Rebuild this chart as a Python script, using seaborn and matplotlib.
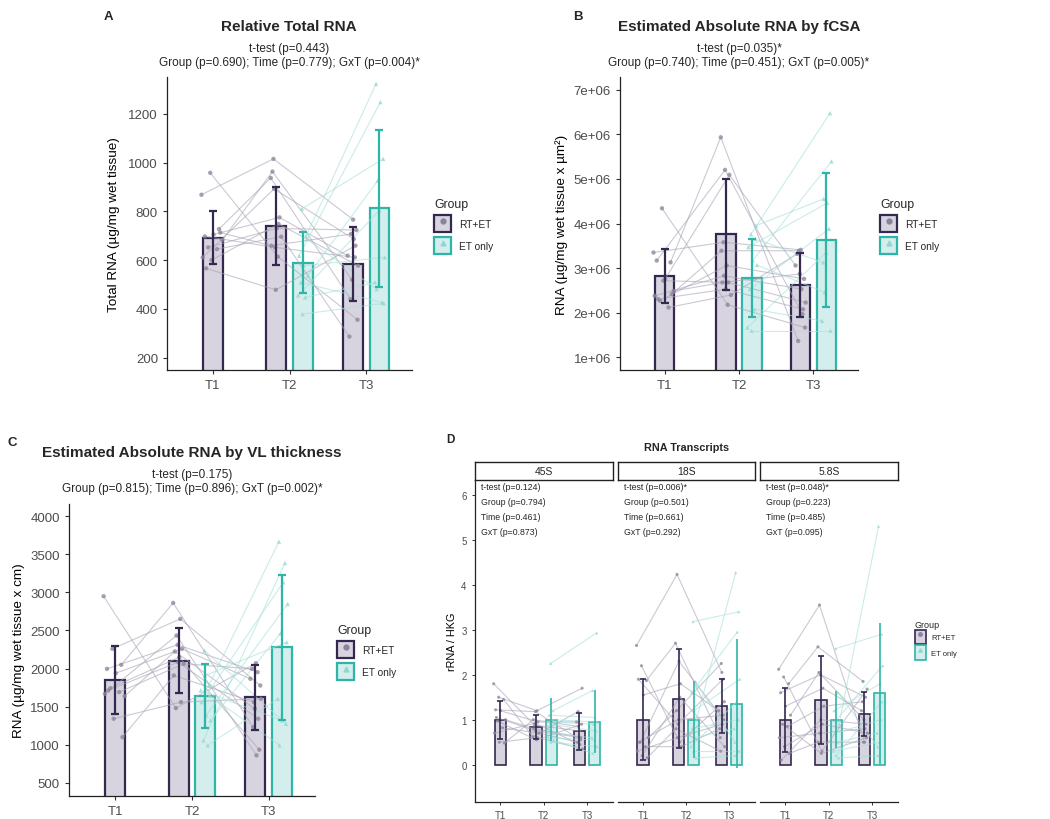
import numpy as np
import pandas as pd
import seaborn as sns
import matplotlib.pyplot as plt
from matplotlib.patches import Patch
from matplotlib.lines import Line2D

sns.set_theme(style='ticks')
plt.rcParams['font.family'] = ['Liberation Sans', 'DejaVu Sans']

W, H = 1050, 820

times = ['T1', 'T2', 'T3']
groups = ['RT+ET', 'ET only']

# ---- A: relative total RNA (µg/mg wet tissue)
a_rt_t1 = [868, 958, 727, 697, 705, 682, 652, 645, 611, 600, 713, 566]
a_rt_t2 = [1015, 614, 937, 652, 775, 963, 730, 696, 892, 748, 659, 478]
a_rt_t3 = [766, 355, 440, 611, 618, 519, 723, 286, 686, 577, 707, 659]
a_et_t2 = [810, 700, 618, 577, 536, 508, 447, 455, 378, 686]
a_et_t3 = [1015, 1323, 1248, 611, 926, 426, 508, 803, 423, 481]
a_mean_rt = [692, 741, 584]
a_sd_rt = [110, 160, 150]
a_mean_et = [590, 812]
a_sd_et = [124, 322]

# ---- B: absolute RNA by fCSA
b_rt_t1 = [3.35, 4.34, 3.13, 3.17, 2.76, 2.49, 2.27, 2.12, 2.38, 2.72, 2.42, 2.31]
b_rt_t2 = [3.58, 2.18, 5.93, 5.20, 5.09, 2.68, 3.06, 2.40, 2.83, 2.68, 3.39, 2.53]
b_rt_t3 = [3.41, 1.67, 1.37, 1.97, 3.06, 2.87, 2.76, 3.32, 2.53, 2.23, 3.39, 2.08]
b_et_t2 = [3.76, 3.65, 3.47, 3.17, 3.07, 2.53, 2.08, 1.67, 1.60, 3.95]
b_et_t3 = [6.47, 3.13, 4.46, 5.39, 2.46, 3.88, 1.82, 3.35, 1.60, 4.55]
b_mean_rt = [2.82, 3.76, 2.62]
b_sd_rt = [0.60, 1.24, 0.72]
b_mean_et = [2.78, 3.62]
b_sd_et = [0.88, 1.50]
b_ticks = [1, 2, 3, 4, 5, 6, 7]
b_ticklabels = ['1e+06', '2e+06', '3e+06', '4e+06', '5e+06', '6e+06', '7e+06']

# ---- C: absolute RNA by VL thickness
c_rt_t1 = [2950, 2259, 2049, 1996, 1939, 1637, 1742, 1690, 1668, 1340, 1099, 1712]
c_rt_t2 = [1480, 2652, 2862, 2311, 2259, 2224, 2149, 2062, 2434, 1559, 1909, 2084]
c_rt_t3 = [2070, 1777, 1230, 1952, 1865, 1471, 933, 1996, 859, 1602, 1559, 1340]
c_et_t2 = [2237, 1777, 1559, 1384, 1318, 1056, 991, 1712, 1909, 1646]
c_et_t3 = [1274, 3667, 3133, 2849, 2464, 3387, 1602, 1318, 2346, 991]
c_mean_rt = [1852, 2105, 1620]
c_sd_rt = [450, 430, 430]
c_mean_et = [1637, 2280]
c_sd_et = [425, 950]

# ---- D: rRNA transcripts / HKG
transcripts = ['45S', '18S', '5.8S']
d_rt_t1 = [[1.80, 1.50, 1.45, 1.22, 1.20, 1.00, 0.97, 0.82, 0.70, 0.50, 0.48, 1.05],
           [2.65, 2.20, 1.87, 1.90, 1.55, 0.60, 0.50, 0.40, 0.30, 0.20, 0.15, 0.50],
           [2.12, 1.95, 1.80, 1.60, 1.30, 1.10, 0.90, 0.85, 0.60, 0.40, 0.25, 0.10]]
d_rt_t2 = [[0.88, 1.20, 0.62, 1.18, 0.95, 0.80, 0.55, 0.70, 0.92, 0.60, 1.00, 0.75],
           [4.23, 0.50, 2.70, 0.90, 1.80, 1.20, 2.30, 0.40, 0.60, 1.50, 0.80, 1.00],
           [3.55, 0.30, 2.62, 2.00, 1.70, 2.05, 0.25, 1.30, 0.70, 0.90, 0.50, 1.00]]
d_rt_t3 = [[0.75, 1.70, 1.18, 0.55, 0.95, 0.62, 0.90, 0.50, 0.45, 0.35, 0.85, 0.60],
           [2.05, 1.40, 0.60, 1.90, 1.20, 2.25, 1.00, 0.80, 0.90, 0.40, 0.30, 1.10],
           [0.50, 1.68, 1.85, 1.50, 1.20, 1.00, 0.60, 1.40, 0.80, 0.70, 0.50, 0.90]]
d_et_t2 = [[2.25, 1.20, 1.10, 1.00, 0.95, 0.90, 0.70, 0.60, 0.50, 0.55],
           [3.18, 1.85, 1.60, 1.20, 1.00, 0.80, 0.60, 0.40, 0.30, 0.15],
           [2.58, 1.60, 1.20, 1.00, 0.90, 0.70, 0.50, 0.30, 0.20, 0.15]]
d_et_t3 = [[2.93, 1.65, 1.05, 0.95, 0.90, 0.75, 0.60, 0.55, 0.40, 0.25],
           [3.40, 0.50, 2.95, 1.90, 4.27, 1.00, 0.80, 1.40, 0.30, 0.20],
           [2.90, 0.40, 1.80, 2.20, 5.30, 1.00, 0.70, 0.50, 1.40, 0.20]]
d_mean_rt = [[1.00, 0.84, 0.74], [1.00, 1.47, 1.30], [1.00, 1.43, 1.13]]
d_sd_rt = [[0.42, 0.26, 0.42], [0.90, 1.11, 0.60], [0.71, 0.98, 0.49]]
d_mean_et = [[1.00, 0.95], [1.00, 1.36], [1.00, 1.59]]
d_sd_et = [[0.48, 0.70], [0.86, 1.43], [0.63, 1.57]]
d_stats = [['t-test (p=0.124)', 'Group (p=0.794)', 'Time (p=0.461)', 'GxT (p=0.873)'],
           ['t-test (p=0.006)*', 'Group (p=0.501)', 'Time (p=0.661)', 'GxT (p=0.292)'],
           ['t-test (p=0.048)*', 'Group (p=0.223)', 'Time (p=0.485)', 'GxT (p=0.095)']]

edge = {'RT+ET': '#35284f', 'ET only': '#2db5a6'}
fill = {'RT+ET': '#d7d3df', 'ET only': '#d3eeed'}
pt_col = {'RT+ET': '#8a8399', 'ET only': '#93d8d0'}
ln_col = {'RT+ET': '#a9a4b6', 'ET only': '#a6e0da'}
markers = {'RT+ET': 'o', 'ET only': '^'}
tick_grey = '#4d4d4d'


def rect(l, t, r, b):
    return [l / W, 1 - b / H, (r - l) / W, (b - t) / H]


def px(x, y):
    return x / W, 1 - y / H


def dodge(group, k):
    # ET only has no T1, so the RT+ET bar sits centred there
    if k == 0:
        return 0.0
    return -0.175 if group == 'RT+ET' else 0.175


def build(rt, et, mean_rt, sd_rt, mean_et, sd_et):
    rows = []
    for k, vals in enumerate(rt):
        jw = 0.30 if k == 0 else 0.15
        for i, v in enumerate(vals):
            j = ((i * 0.382 + k * 0.27) % 1 - 0.5) * jw
            rows.append(('RT%d' % i, 'RT+ET', k + 1 + dodge('RT+ET', k) + j, v))
    for k, vals in enumerate(et, start=1):
        for i, v in enumerate(vals):
            j = ((i * 0.382 + k * 0.41) % 1 - 0.5) * 0.15
            rows.append(('ET%d' % i, 'ET only', k + 1 + dodge('ET only', k) + j, v))
    pts = pd.DataFrame(rows, columns=['subject', 'group', 'x', 'value'])
    srows = []
    for k in range(3):
        srows.append(('RT+ET', k + 1 + dodge('RT+ET', k), mean_rt[k], sd_rt[k]))
    for k in range(1, 3):
        srows.append(('ET only', k + 1 + dodge('ET only', k), mean_et[k - 1], sd_et[k - 1]))
    summ = pd.DataFrame(srows, columns=['group', 'x', 'mean', 'sd'])
    return pts, summ


def draw(ax, pts, summ, lw=1.6, cap=3, ms=10, et_caps=True):
    ax.bar(summ['x'], summ['mean'], width=0.26,
           color=[fill[g] for g in summ['group']],
           edgecolor=[edge[g] for g in summ['group']], linewidth=lw, zorder=1)
    sns.lineplot(data=pts, x='x', y='value', units='subject', estimator=None,
                 hue='group', palette=ln_col, linewidth=0.8, alpha=0.6,
                 legend=False, ax=ax, zorder=2)
    sns.scatterplot(data=pts, x='x', y='value', hue='group', style='group',
                    markers=markers, palette=pt_col, s=ms, alpha=0.75,
                    linewidth=0, legend=False, ax=ax, zorder=3)
    for _, r in summ.iterrows():
        c = cap if (r['group'] == 'RT+ET' or et_caps) else 0
        ax.errorbar(r['x'], r['mean'], yerr=r['sd'], color=edge[r['group']],
                    lw=lw, capsize=c, capthick=lw, zorder=4)
    ax.set_xticks([1, 2, 3])
    ax.set_xticklabels(times)
    ax.set_xlabel('')
    sns.despine(ax=ax)
    for s in ['left', 'bottom']:
        ax.spines[s].set_color('#222222')
        ax.spines[s].set_linewidth(0.9)


def legend_handles(lw=1.6, ms=3):
    hs = []
    for g in groups:
        hs.append((Patch(facecolor=fill[g], edgecolor=edge[g], linewidth=lw),
                   Line2D([], [], marker=markers[g], ls='', color=pt_col[g], ms=ms)))
    return hs


fig = plt.figure(figsize=(W / 100, H / 100), dpi=100)

panels = [
    dict(r=rect(167, 78, 412, 371), data=(a_rt_t1, a_rt_t2, a_rt_t3, a_et_t2, a_et_t3,
         a_mean_rt, a_sd_rt, a_mean_et, a_sd_et), ylim=(149, 1351),
         ticks=[200, 400, 600, 800, 1000, 1200], labels=None,
         ylabel='Total RNA (µg/mg wet tissue)', lx=-0.19, letter=('A', 108, 17),
         title='Relative Total RNA', tc=(289, 27),
         sub=['t-test (p=0.443)', 'Group (p=0.690); Time (p=0.779); GxT (p=0.004)*'],
         leg=(429, 194)),
    dict(r=rect(620, 78, 858, 371), data=(b_rt_t1, b_rt_t2, b_rt_t3, b_et_t2, b_et_t3,
         b_mean_rt, b_sd_rt, b_mean_et, b_sd_et), ylim=(0.72, 7.28),
         ticks=b_ticks, labels=b_ticklabels,
         ylabel='RNA (µg/mg wet tissue x µm²)', lx=-0.22, letter=('B', 578, 17),
         title='Estimated Absolute RNA by fCSA', tc=(739, 27),
         sub=['t-test (p=0.035)*', 'Group (p=0.740); Time (p=0.451); GxT (p=0.005)*'],
         leg=(875, 194)),
    dict(r=rect(69, 505, 315, 797), data=(c_rt_t1, c_rt_t2, c_rt_t3, c_et_t2, c_et_t3,
         c_mean_rt, c_sd_rt, c_mean_et, c_sd_et), ylim=(325, 4162),
         ticks=[500, 1000, 1500, 2000, 2500, 3000, 3500, 4000], labels=None,
         ylabel='RNA (µg/mg wet tissue x cm)', lx=-0.18, letter=('C', 12, 443),
         title='Estimated Absolute RNA by VL thickness', tc=(192, 453),
         sub=['t-test (p=0.175)', 'Group (p=0.815); Time (p=0.896); GxT (p=0.002)*'],
         leg=(332, 620)),
]

for p in panels:
    ax = fig.add_axes(p['r'])
    d = p['data']
    pts, summ = build([d[0], d[1], d[2]], [d[3], d[4]], d[5], d[6], d[7], d[8])
    draw(ax, pts, summ)
    ax.set_xlim(0.4, 3.6)
    ax.set_ylim(*p['ylim'])
    ax.set_yticks(p['ticks'])
    if p['labels'] is not None:
        ax.set_yticklabels(p['labels'])
    ax.tick_params(labelsize=9.5, labelcolor=tick_grey, color='#333333', length=3, width=0.8)
    ax.set_ylabel(p['ylabel'], fontsize=9.7, color='black')
    ax.yaxis.set_label_coords(p['lx'], 0.5)
    fig.text(*px(p['tc'][0], p['tc'][1]), p['title'], ha='center', va='center',
             fontsize=11, fontweight='bold')
    fig.text(*px(p['tc'][0], p['tc'][1] + 22), p['sub'][0], ha='center', va='center', fontsize=8.5)
    fig.text(*px(p['tc'][0], p['tc'][1] + 36), p['sub'][1], ha='center', va='center', fontsize=8.5)
    fig.text(*px(p['letter'][1], p['letter'][2]), p['letter'][0], ha='center', va='center',
             fontsize=9.5, fontweight='bold')
    fig.legend(legend_handles(ms=3.5), groups, title='Group', loc='upper left',
               bbox_to_anchor=px(*p['leg']), frameon=False, fontsize=7.3,
               title_fontsize=8.8, handlelength=1.7, handleheight=2.2,
               handletextpad=0.8, labelspacing=0.5, borderpad=0, alignment='left')

# ---- D: faceted transcripts
facets = [(475, 613), (618, 755), (760, 898)]
for n, (l, r) in enumerate(facets):
    ax = fig.add_axes(rect(l, 481, r, 803))
    pts, summ = build([d_rt_t1[n], d_rt_t2[n], d_rt_t3[n]], [d_et_t2[n], d_et_t3[n]],
                      d_mean_rt[n], d_sd_rt[n], d_mean_et[n], d_sd_et[n])
    draw(ax, pts, summ, lw=1.2, cap=2, ms=5, et_caps=False)
    ax.set_xlim(0.42, 3.6)
    ax.set_ylim(-0.83, 6.33)
    ax.set_yticks([0, 1, 2, 3, 4, 5, 6])
    ax.tick_params(labelsize=7, labelcolor=tick_grey, color='#333333', length=2.5, width=0.7)
    if n == 0:
        ax.set_ylabel('rRNA / HKG', fontsize=7.8, color='black')
        ax.yaxis.set_label_coords(-0.13, 0.5)
    else:
        ax.spines['left'].set_visible(False)
        ax.tick_params(left=False, labelleft=False)
        ax.set_ylabel('')
    for i, line in enumerate(d_stats[n]):
        ax.text(0.55, 6.19 - i * 0.333, line, ha='left', va='center', fontsize=6.3)
    sax = fig.add_axes(rect(l, 463, r, 481))
    sax.set_xticks([])
    sax.set_yticks([])
    for s in sax.spines.values():
        s.set_visible(True)
        s.set_color('#222222')
        s.set_linewidth(1.0)
    sax.text(0.5, 0.5, transcripts[n], ha='center', va='center', fontsize=7.5,
             transform=sax.transAxes)

fig.text(*px(687, 448), 'RNA Transcripts', ha='center', va='center', fontsize=7.8,
         fontweight='bold')
fig.text(*px(450, 440), 'D', ha='center', va='center', fontsize=8.5, fontweight='bold')
fig.legend(legend_handles(lw=1.2, ms=2.5), groups, title='Group', loc='upper left',
           bbox_to_anchor=px(911, 617), frameon=False, fontsize=5.5,
           title_fontsize=6.5, handlelength=1.45, handleheight=2.6,
           handletextpad=0.7, labelspacing=0.1, borderpad=0, alignment='left')

fig.savefig('out.png', dpi=100)
